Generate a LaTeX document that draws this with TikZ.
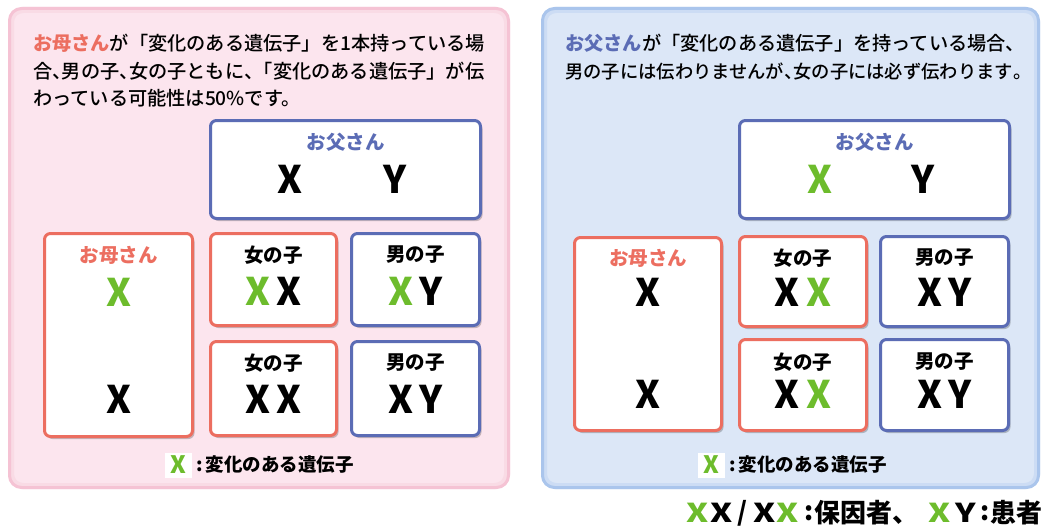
\documentclass[tikz,border=0pt]{standalone}
\usepackage{fontspec}
\usepackage{graphicx}
\setmainfont{Noto Sans CJK JP}
\newfontfamily\jphead{Noto Sans CJK JP Medium}
\usetikzlibrary{shadows}
\definecolor{pinkbg}{HTML}{FCE5EE}
\definecolor{pinkedge}{HTML}{F5C3D4}
\definecolor{bluebg}{HTML}{DCE7F7}
\definecolor{blueedge}{HTML}{AAC5EC}
\definecolor{momred}{HTML}{EC6E60}
\definecolor{dadblue}{HTML}{5B6CB5}
\definecolor{geneg}{HTML}{6DBC2C}
\tikzset{
  panel/.style={rounded corners=12pt, line width=3pt, inner sep=0pt},
  famebox/.style={fill=white, line width=3pt, rounded corners=6pt, inner sep=0pt,
    drop shadow={shadow xshift=2pt, shadow yshift=-2.5pt, opacity=0.22, fill=black}},
  redbox/.style={famebox, draw=momred},
  bluebox/.style={famebox, draw=dadblue},
  head/.style={anchor=west, inner sep=0pt, font=\jphead\fontsize{19.2}{20}\selectfont},
  lab/.style={inner sep=0pt, font=\fontsize{19.5}{20}\selectfont\bfseries},
  gene/.style={inner sep=0pt, font=\fontsize{38}{38}\selectfont\bfseries},
  leg/.style={anchor=west, inner sep=0pt, font=\fontsize{18.5}{20}\selectfont\bfseries},
  legsq/.style={fill=white, inner sep=0pt, minimum width=27pt, minimum height=25pt, font=\fontsize{24}{24}\selectfont\bfseries, text=geneg},
  keyx/.style={inner sep=0pt, font=\fontsize{26}{26}\selectfont\bfseries},
  keyt/.style={anchor=west, inner sep=0pt, font=\fontsize{26}{26}\selectfont\bfseries},
}
\newcommand{\gx}{{\color{geneg}X}}
\newcommand{\hcomma}{\makebox[0.5em][l]{、}}
\newcommand{\hstop}{\makebox[0.5em][l]{。}}
\newcommand{\wx}[1]{\scalebox{1.3}[1]{#1}}
\begin{document}
\begin{tikzpicture}[x=1pt,y=-1pt]
\useasboundingbox (0,0) rectangle (1042,527);
% panels
\node[panel, fill=pinkbg, draw=pinkedge!60, line width=6pt, minimum width=496pt, minimum height=476pt] (panelL) at (259,248) {};
\node[panel, draw=pinkedge, minimum width=499pt, minimum height=479pt] (panelLe) at (259,248) {};
\node[panel, fill=bluebg, draw=blueedge!60, line width=6pt, minimum width=493pt, minimum height=476pt] (panelR) at (790.5,248) {};
\node[panel, draw=blueedge, minimum width=496pt, minimum height=479pt] (panelRe) at (790.5,248) {};
% left header
\node[head] (hL1) at (33,43) {{\bfseries\color{momred}お母さん}が「変化のある遺伝子」を1本持っている場};
\node[head] (hL2) at (33,71) {合\hcomma 男の子\hcomma 女の子ともに\hcomma「変化のある遺伝子」が伝};
\node[head] (hL3) at (33,98) {わっている可能性は50\%です。};
% right header
\node[head] (hR1) at (565,43) {{\bfseries\color{dadblue}お父さん}が「変化のある遺伝子」を持っている場合、};
\node[head, font=\jphead\fontsize{18.3}{20}\selectfont] (hR2) at (565,71) {男の子には伝わりませんが\hcomma 女の子には必ず伝わります\hstop};
% ---------- left grid
\node[bluebox, minimum width=270pt, minimum height=98pt] (fatherL) at (345.5,169.5) {};
\node[lab, text=dadblue] (fatherLlab) at (345.5,142) {お父さん};
\node[gene] (fatherLx) at (290,179) {X};
\node[gene] (fatherLy) at (395,179) {Y};
\node[redbox, minimum width=148pt, minimum height=203pt] (motherL) at (118.5,335) {};
\node[lab, text=momred] (motherLlab) at (118.5,255) {お母さん};
\node[gene, text=geneg] (motherLx1) at (118.5,292) {X};
\node[gene] (motherLx2) at (118.5,399) {X};
\node[redbox, minimum width=126pt, minimum height=92pt] (girlL1) at (273.5,279.5) {};
\node[lab] (girlL1lab) at (273.5,255) {女の子};
\node[gene] (girlL1g) at (273.5,291) {\gx\,X};
\node[bluebox, minimum width=128pt, minimum height=92pt] (boyL1) at (415.5,279.5) {};
\node[lab] (boyL1lab) at (415.5,255) {男の子};
\node[gene] (boyL1g) at (415.5,291) {\gx\,Y};
\node[redbox, minimum width=126pt, minimum height=94pt] (girlL2) at (273.5,388.5) {};
\node[lab] (girlL2lab) at (273.5,363) {女の子};
\node[gene] (girlL2g) at (273.5,399) {X\,X};
\node[bluebox, minimum width=128pt, minimum height=94pt] (boyL2) at (415.5,388.5) {};
\node[lab] (boyL2lab) at (415.5,363) {男の子};
\node[gene] (boyL2g) at (415.5,399) {X\,Y};
% left legend
\node[legsq] (legsqL) at (178.5,465) {X};
\node[leg] (legL) at (196,465) {:\,変化のある遺伝子};
% ---------- right grid
\node[bluebox, minimum width=270pt, minimum height=98pt] (fatherR) at (874.5,169.5) {};
\node[lab, text=dadblue] (fatherRlab) at (874.5,142) {お父さん};
\node[gene, text=geneg] (fatherRx) at (820,179) {X};
\node[gene] (fatherRy) at (923,179) {Y};
\node[redbox, minimum width=147pt, minimum height=193pt] (motherR) at (648,334) {};
\node[lab, text=momred] (motherRlab) at (648,258) {お母さん};
\node[gene] (motherRx1) at (648,292) {X};
\node[gene] (motherRx2) at (648,394) {X};
\node[redbox, minimum width=127pt, minimum height=90pt] (girlR1) at (803,281.5) {};
\node[lab] (girlR1lab) at (803,258) {女の子};
\node[gene] (girlR1g) at (803,292) {X\,\gx};
\node[bluebox, minimum width=128pt, minimum height=90pt] (boyR1) at (944.5,281.5) {};
\node[lab] (boyR1lab) at (944.5,258) {男の子};
\node[gene] (boyR1g) at (944.5,292) {X\,Y};
\node[redbox, minimum width=127pt, minimum height=91pt] (girlR2) at (803,385) {};
\node[lab] (girlR2lab) at (803,362) {女の子};
\node[gene] (girlR2g) at (803,394) {X\,\gx};
\node[bluebox, minimum width=128pt, minimum height=91pt] (boyR2) at (944.5,385) {};
\node[lab] (boyR2lab) at (944.5,362) {男の子};
\node[gene] (boyR2g) at (944.5,394) {X\,Y};
% right legend
\node[legsq] (legsqR) at (711.5,465) {X};
\node[leg] (legR) at (729,465) {:\,変化のある遺伝子};
% bottom key
\node[keyx, text=geneg] (k1) at (697.5,513) {\wx{X}};
\node[keyx] (k2) at (722,513) {\wx{X}};
\node[keyx] (k3) at (742.5,513) {/};
\node[keyx] (k4) at (765,513) {\wx{X}};
\node[keyx, text=geneg] (k5) at (788,513) {\wx{X}};
\node[keyt] (k6) at (804,513) {:};
\node[keyt] (k7) at (814,513) {保因者、};
\node[keyx, text=geneg] (k8) at (940,513) {\wx{X}};
\node[keyx] (k9) at (966,513) {\wx{Y}};
\node[keyt] (k10) at (980,513) {:};
\node[keyt] (k11) at (990,513) {患者};
\end{tikzpicture}
\end{document}
